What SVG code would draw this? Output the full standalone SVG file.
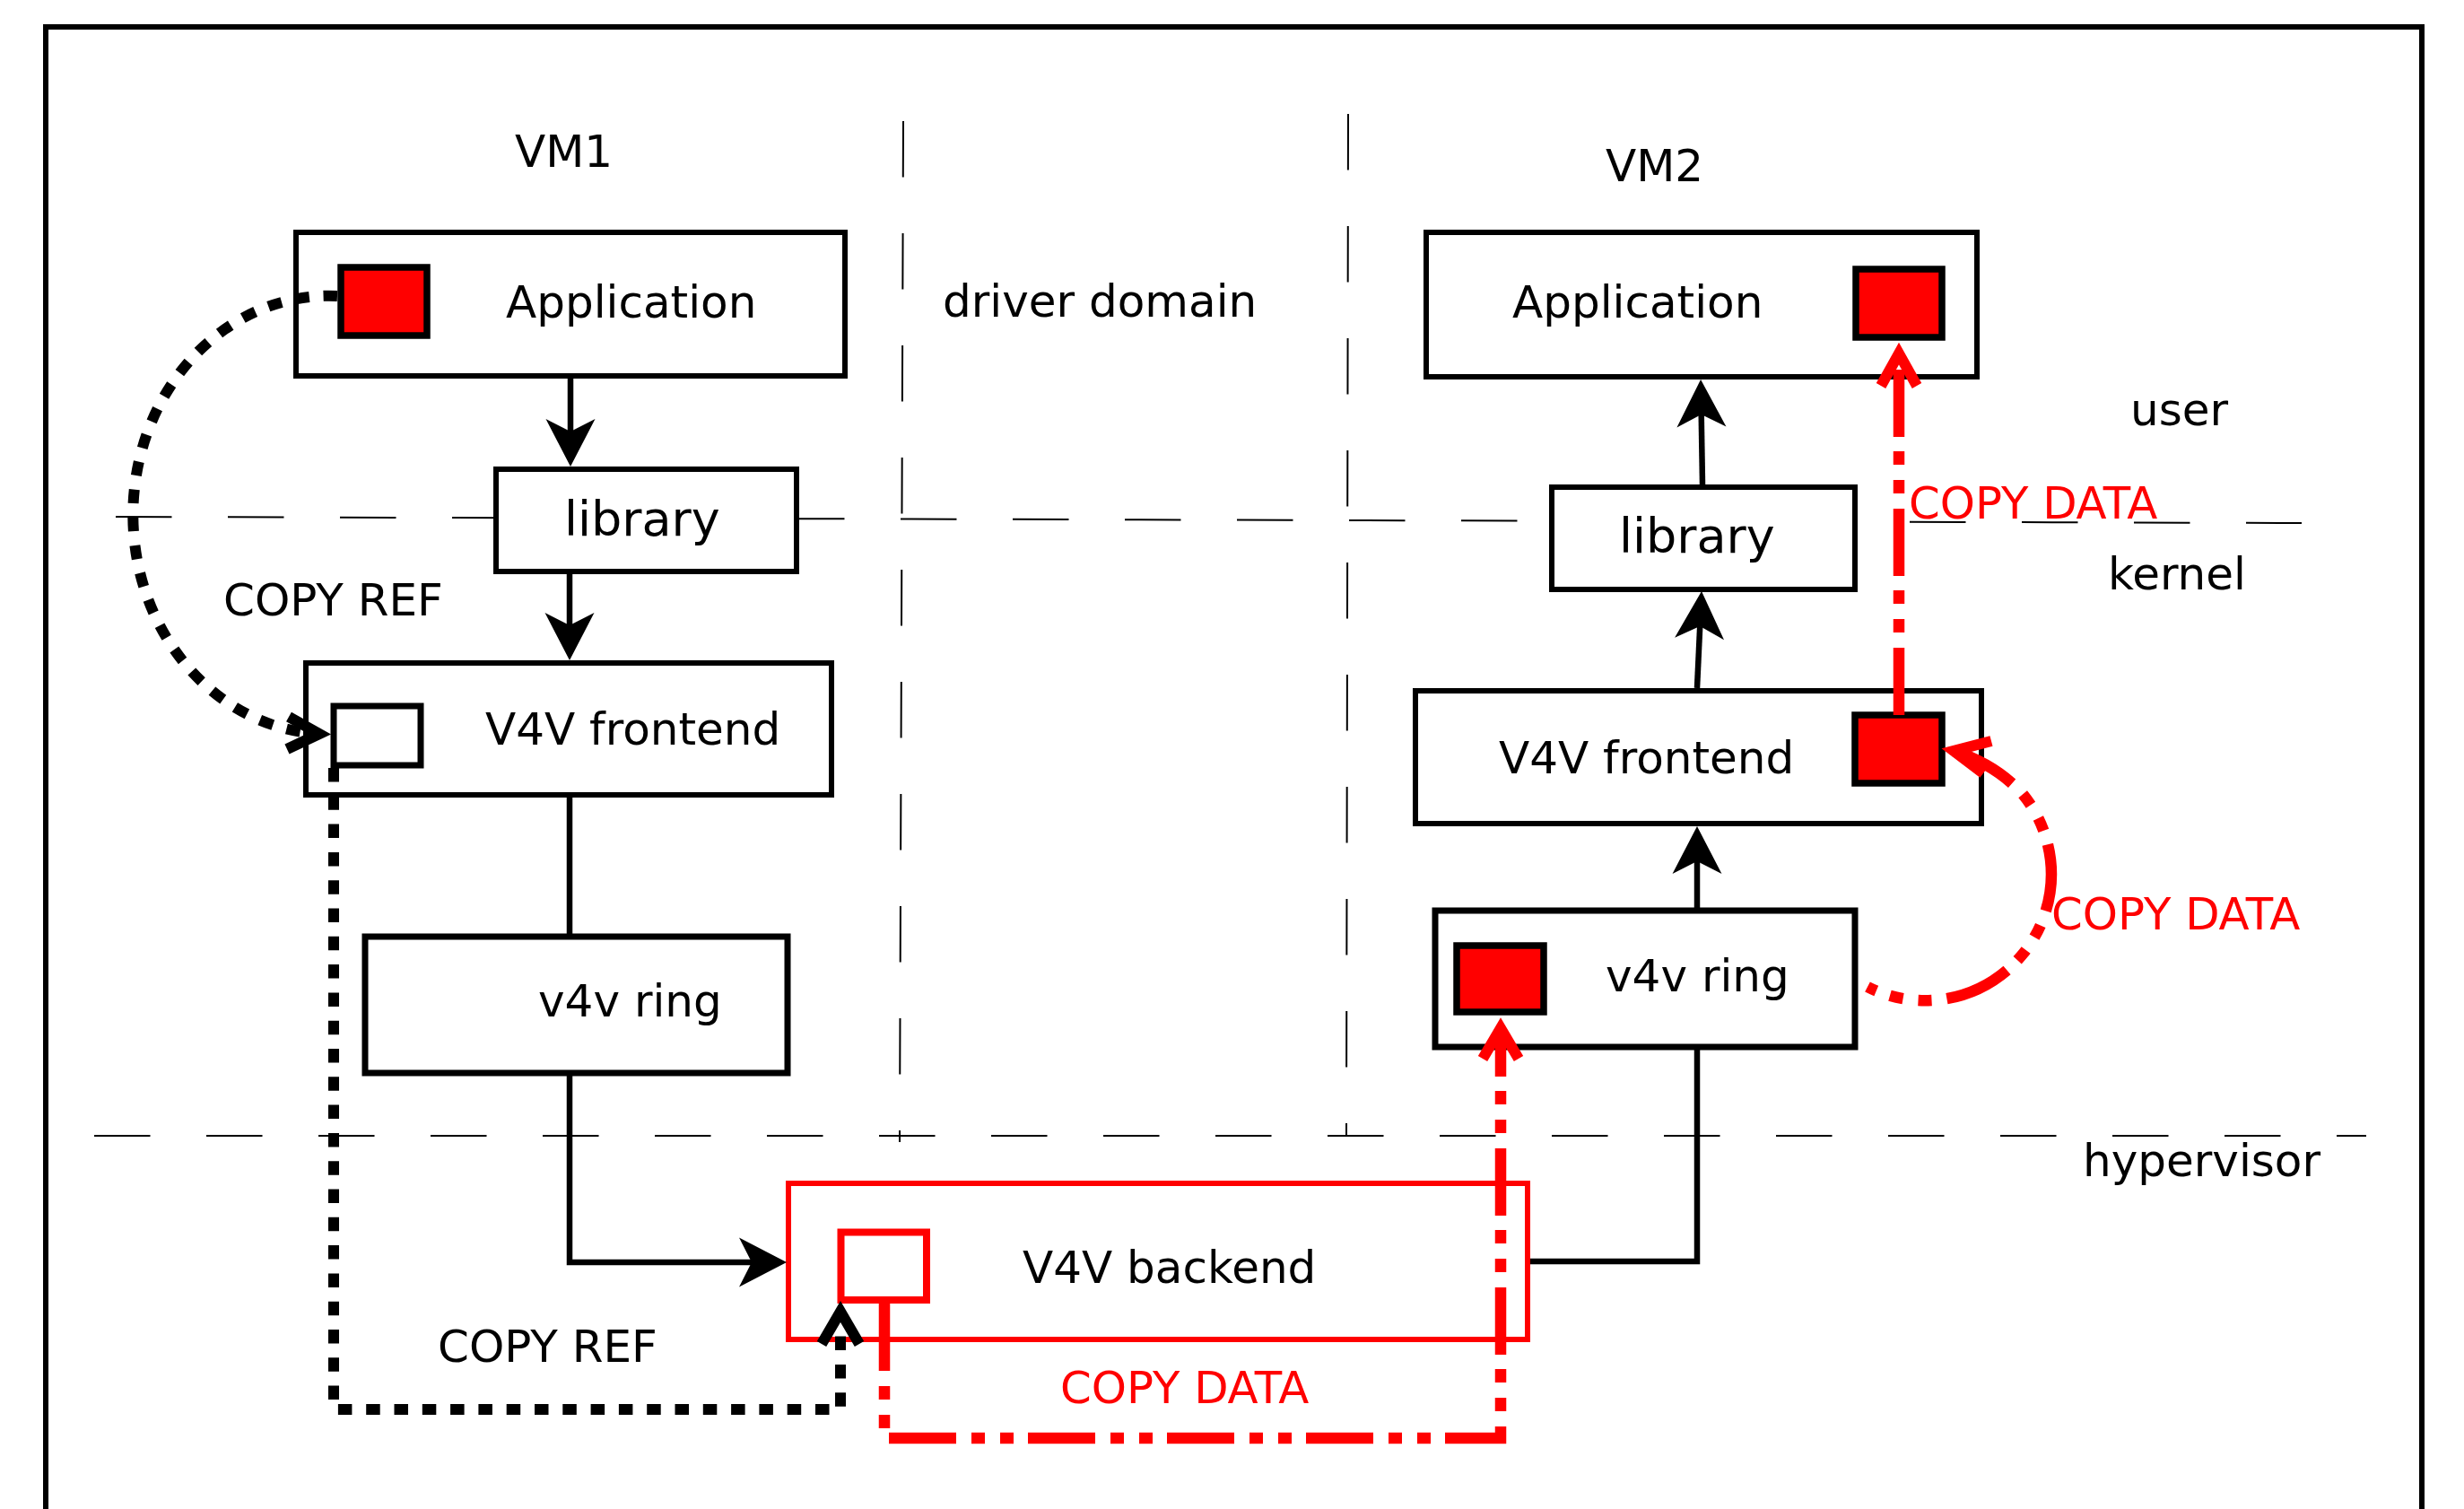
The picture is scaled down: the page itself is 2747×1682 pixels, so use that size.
<svg xmlns="http://www.w3.org/2000/svg" width="2747" height="1682" viewBox="0 0 2747 1682">
  <style>
    .frame { fill: none; stroke: #000; stroke-width: 6; }
    .box { fill: #fff; stroke: #000; stroke-width: 6; }
    .ring { fill: #fff; stroke: #000; stroke-width: 7; }
    .buf { fill: #ff0000; stroke: #000; stroke-width: 7.5; }
    .ref-buf { fill: #fff; stroke: #000; stroke-width: 7; }
    .hv { fill: #fff; stroke: #ff0000; stroke-width: 6; }
    .hv-buf { fill: #fff; stroke: #ff0000; stroke-width: 8; }
    .guide { fill: none; stroke: #000; stroke-width: 2; stroke-dasharray: 62.5 62.5; }
    .conn { fill: none; stroke: #000; stroke-width: 6.5; }
    .ref { fill: none; stroke: #000; stroke-width: 12; stroke-dasharray: 15.5 15.8; }
    .data { fill: none; stroke: #ff0000; stroke-width: 12.5; stroke-dasharray: 75 17 15 17 15 16; }
    .chev-k { fill: none; stroke: #000; stroke-width: 12; stroke-linejoin: miter; }
    .chev-r { fill: none; stroke: #ff0000; stroke-width: 12; stroke-linejoin: miter; }
    text { font-family: "DejaVu Sans", "Liberation Sans", sans-serif; font-size: 50px; fill: #000; }
    text.lib { font-size: 54px; }
    text.red { fill: #ff0000; font-size: 49.8px; }
  </style>
  <defs>
    <!-- filled dart head; reference point sits at the notch -->
    <marker id="dart" markerUnits="userSpaceOnUse" viewBox="-16 -30 58 60" markerWidth="58" markerHeight="60" refX="0" refY="0" orient="auto" overflow="visible">
      <path d="M39,0 L-14,-27.5 L0,0 L-14,27.5 Z" fill="#000"/>
    </marker>
  </defs>

  <rect width="2747" height="1682" fill="#fff"/>

  <!-- outer frame -->
  <rect class="frame" x="51" y="30" width="2649" height="1720"/>

  <!-- domain and privilege separators -->
  <g id="separators">
    <line class="guide" x1="129" y1="576" x2="2566" y2="583"/>
    <line class="guide" x1="105" y1="1266" x2="2638" y2="1266"/>
    <line class="guide" x1="1007" y1="135" x2="1003" y2="1273"/>
    <line class="guide" x1="1503" y1="127" x2="1501" y2="1265"/>
  </g>

  <!-- region labels -->
  <g id="labels">
    <text x="574" y="186">VM1</text>
    <text x="1790" y="202">VM2</text>
    <text x="1051" y="353">driver domain</text>
    <text x="2375" y="474">user</text>
    <text x="2350" y="657">kernel</text>
    <text x="2322" y="1311">hypervisor</text>
  </g>

  <!-- VM1 -->
  <g id="vm1-application">
    <rect class="box" x="330" y="259" width="612" height="160"/>
    <rect class="buf" x="380" y="298" width="96" height="76"/>
    <text x="564" y="354">Application</text>
  </g>
  <g id="vm1-library">
    <rect class="box" x="553" y="523" width="335" height="114"/>
    <text class="lib" x="629" y="597">library</text>
  </g>
  <g id="vm1-frontend">
    <rect class="box" x="341" y="739" width="586" height="147"/>
    <rect class="ref-buf" x="372" y="787" width="97" height="66"/>
    <text x="541" y="830">V4V frontend</text>
  </g>
  <g id="vm1-ring">
    <rect class="ring" x="407" y="1044" width="471" height="152"/>
    <text x="600" y="1133">v4v ring</text>
  </g>

  <!-- VM2 -->
  <g id="vm2-application">
    <rect class="box" x="1590" y="259" width="614" height="161"/>
    <rect class="buf" x="2069" y="300" width="96" height="76"/>
    <text x="1686" y="354">Application</text>
  </g>
  <g id="vm2-library">
    <rect class="box" x="1730" y="543" width="338" height="114"/>
    <text class="lib" x="1805" y="616">library</text>
  </g>
  <g id="vm2-frontend">
    <rect class="box" x="1578" y="770" width="631" height="148"/>
    <rect class="buf" x="2068" y="797" width="97" height="76"/>
    <text x="1671" y="862">V4V frontend</text>
  </g>
  <g id="vm2-ring">
    <rect class="ring" x="1600" y="1015" width="468" height="152"/>
    <rect class="buf" x="1624" y="1054" width="97" height="74"/>
    <text x="1790" y="1105">v4v ring</text>
  </g>

  <!-- hypervisor -->
  <g id="backend">
    <rect class="hv" x="879" y="1319" width="824" height="174"/>
    <rect class="hv-buf" x="937.5" y="1373.5" width="95.5" height="75.5"/>
    <text x="1140" y="1430">V4V backend</text>
  </g>

  <!-- connectors -->
  <g id="connectors">
    <!-- VM1 stack -->
    <line class="conn" x1="636" y1="422" x2="636" y2="481" marker-end="url(#dart)"/>
    <line class="conn" x1="635" y1="640" x2="635" y2="697" marker-end="url(#dart)"/>
    <line class="conn" x1="635" y1="889" x2="635" y2="1041"/>
    <polyline class="conn" points="635,1199 635,1407 838,1407" marker-end="url(#dart)"/>

    <!-- backend to VM2 stack -->
    <polyline class="conn" points="1706,1406 1892,1406 1892,1170"/>
    <line class="conn" x1="1892" y1="1012" x2="1892" y2="960" marker-end="url(#dart)"/>
    <line class="conn" x1="1892" y1="767" x2="1895.2" y2="698" marker-end="url(#dart)"/>
    <line class="conn" x1="1898" y1="540" x2="1896.7" y2="462" marker-end="url(#dart)"/>

    <!-- COPY REF: application buffer to frontend -->
    <path class="ref" d="M376,330 A218,244 0 0 0 357,818"/>
    <polyline class="chev-k" points="322,799 356,818 320,835"/>

    <!-- COPY REF: frontend to backend -->
    <polyline class="ref" points="372,856 372,1571 937,1571 937,1462"/>
    <polyline class="chev-k" points="916,1498 937,1462 958,1498"/>

    <!-- COPY DATA: backend to VM2 ring -->
    <polyline class="data" points="986,1453 986,1603 1673,1603 1673,1146"/>
    <polyline class="chev-r" points="1653,1180 1673,1146 1693,1180"/>

    <!-- COPY DATA: ring to frontend buffer -->
    <path class="data" d="M2178,837 Q2225,852 2255,885 A141,141 0 0 1 2082,1100"/>
    <polyline class="chev-r" points="2220,826 2178,837 2211,862"/>

    <!-- COPY DATA: frontend buffer to application -->
    <line class="data" x1="2117" y1="797" x2="2117" y2="394"/>
    <polyline class="chev-r" points="2097,430 2117,394 2137,430"/>
  </g>

  <!-- transfer labels -->
  <g id="transfer-labels">
    <text x="249" y="686">COPY REF</text>
    <text x="488" y="1518">COPY REF</text>
    <text class="red" x="2128" y="578">COPY DATA</text>
    <text class="red" x="2287" y="1036">COPY DATA</text>
    <text class="red" x="1182" y="1564">COPY DATA</text>
  </g>
</svg>
